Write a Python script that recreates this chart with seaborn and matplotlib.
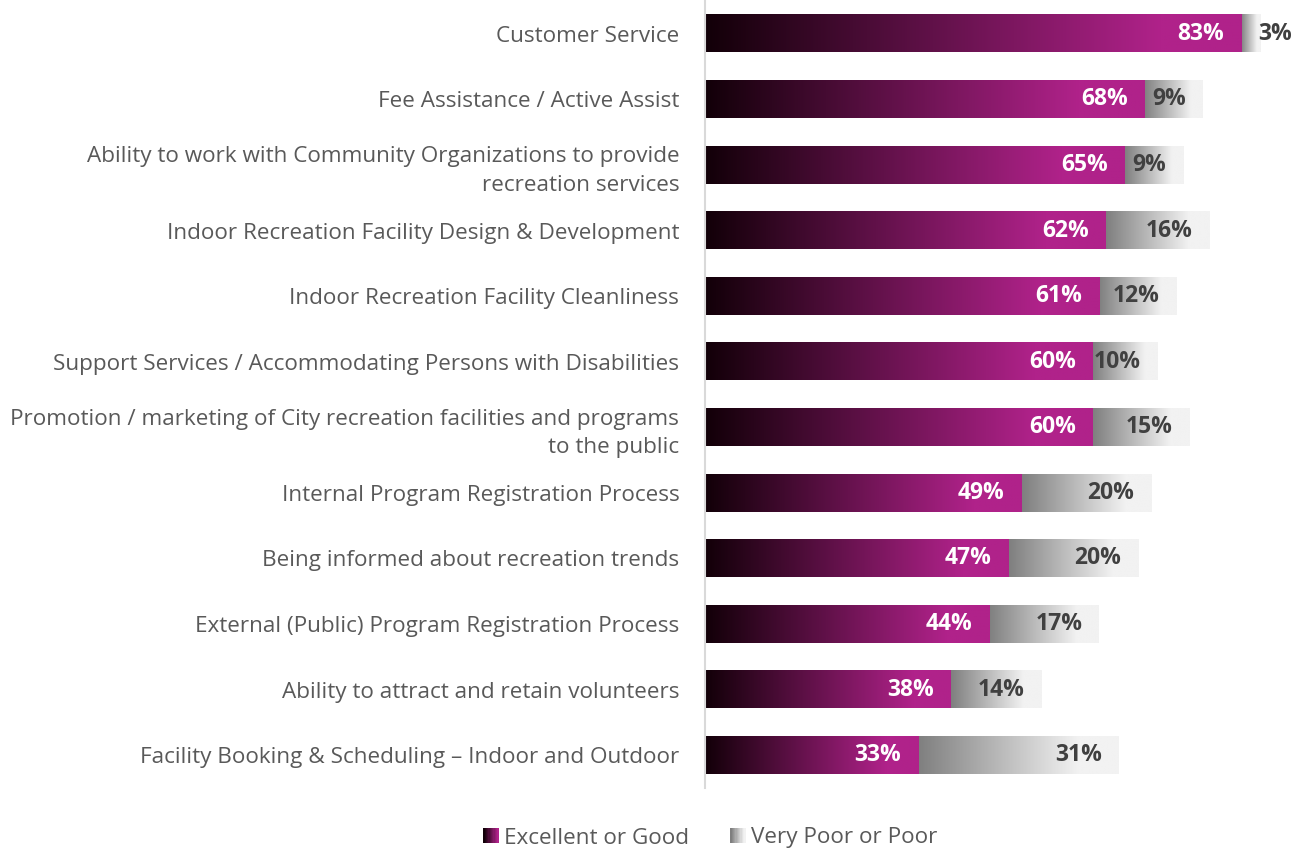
import numpy as np
import pandas as pd
import seaborn as sns
import matplotlib.pyplot as plt
from matplotlib.colors import LinearSegmentedColormap
from matplotlib.patches import Rectangle
from matplotlib.legend_handler import HandlerBase

categories = [
    'Customer Service',
    'Fee Assistance / Active Assist',
    'Ability to work with Community Organizations to provide\nrecreation services',
    'Indoor Recreation Facility Design & Development',
    'Indoor Recreation Facility Cleanliness',
    'Support Services / Accommodating Persons with Disabilities',
    'Promotion / marketing of City recreation facilities and programs\nto the public',
    'Internal Program Registration Process',
    'Being informed about recreation trends',
    'External (Public) Program Registration Process',
    'Ability to attract and retain volunteers',
    'Facility Booking & Scheduling \u2013 Indoor and Outdoor',
]
excellent_good = [83, 68, 65, 62, 61, 60, 60, 49, 47, 44, 38, 33]
very_poor_poor = [3, 9, 9, 16, 12, 10, 15, 20, 20, 17, 14, 31]

df = pd.DataFrame({'category': categories,
                   'good': excellent_good,
                   'poor': very_poor_poor})
df['total'] = df['good'] + df['poor']

sns.set_theme(style='white')
plt.rcParams['font.family'] = ['Open Sans', 'DejaVu Sans']

purple_cmap = LinearSegmentedColormap.from_list(
    'purp', [(0, '#120008'), (0.85, '#b0228a'), (1, '#b0228a')])
grey_cmap = LinearSegmentedColormap.from_list(
    'grey', [(0, '#7f7f7f'), (0.8, '#f2f2f2'), (1, '#f2f2f2')])

fig = plt.figure(figsize=(12.91, 8.52), dpi=100)
ax = fig.add_axes([705 / 1291, 1 - 788 / 852, 1 - 705 / 1291, 787 / 852])

sns.barplot(data=df, y='category', x='total', orient='h', width=0.57,
            color='#bbbbbb', ax=ax)
sns.barplot(data=df, y='category', x='good', orient='h', width=0.57,
            color='#b0228a', ax=ax)

n = len(categories)
grad = np.linspace(0, 1, 256).reshape(1, -1)
for i, p in enumerate(ax.patches):
    x0, y0 = p.get_x(), p.get_y()
    w, h = p.get_width(), p.get_height()
    if i < n:
        # grey part, drawn from the end of the purple bar
        start = df['good'].iloc[i]
        ax.imshow(grad, cmap=grey_cmap, aspect='auto', zorder=1,
                  extent=[start, x0 + w, y0 + h, y0], interpolation='bilinear')
    else:
        ax.imshow(grad, cmap=purple_cmap, aspect='auto', zorder=2,
                  extent=[x0, x0 + w, y0 + h, y0], interpolation='bilinear')
    p.set_visible(False)

ax.set_xlim(0, 90.7)
ax.set_ylim(n - 0.5, -0.5)

pad = 2.6
lbl_size = 16.5
for i in range(n):
    g = df['good'].iloc[i]
    t = df['total'].iloc[i]
    ax.text(g - pad, i, f'{g}%', color='white', fontweight='bold',
            fontsize=lbl_size, ha='right', va='center', zorder=3)
    if df['poor'].iloc[i] < 5:
        ax.text(g + pad, i, f"{df['poor'].iloc[i]}%", color='#404040',
                fontweight='bold', fontsize=lbl_size, ha='left', va='center', zorder=3)
    else:
        ax.text(t - pad, i, f"{df['poor'].iloc[i]}%", color='#404040',
                fontweight='bold', fontsize=lbl_size, ha='right', va='center', zorder=3)

ax.set_xlabel('')
ax.set_ylabel('')
ax.set_xticks([])
ax.tick_params(axis='y', length=0, pad=18.5, labelsize=16.2, labelcolor='#595959')
for lab in ax.get_yticklabels():
    lab.set_horizontalalignment('right')
    lab.set_linespacing(1.45)
for s in ['top', 'right', 'bottom']:
    ax.spines[s].set_visible(False)
ax.spines['left'].set_color('#d9d9d9')
ax.spines['left'].set_linewidth(1.5)


class GradientHandler(HandlerBase):
    def __init__(self, cmap):
        super().__init__()
        self.cmap = cmap

    def create_artists(self, legend, orig_handle, xdescent, ydescent,
                       width, height, fontsize, trans):
        steps = 12
        size = height * 0.95
        x0 = width - size
        arts = []
        for k in range(steps):
            r = Rectangle((x0 + k * size / steps, -ydescent + (height - size) / 2),
                          size / steps + 0.3, size,
                          facecolor=self.cmap(k / (steps - 1) * 0.85),
                          edgecolor='none', transform=trans)
            arts.append(r)
        return arts


h1 = Rectangle((0, 0), 1, 1)
h2 = Rectangle((0, 0), 1, 1)
fig.legend([h1, h2], ['Excellent or Good', 'Very Poor or Poor'],
           handler_map={h1: GradientHandler(purple_cmap), h2: GradientHandler(grey_cmap)},
           loc='center', bbox_to_anchor=(710 / 1291, 1 - 838 / 852), ncol=2,
           frameon=False, fontsize=16.2, labelcolor='#595959',
           handlelength=0.7, handletextpad=0.25, columnspacing=1.8)

fig.savefig('out.png', dpi=100)
